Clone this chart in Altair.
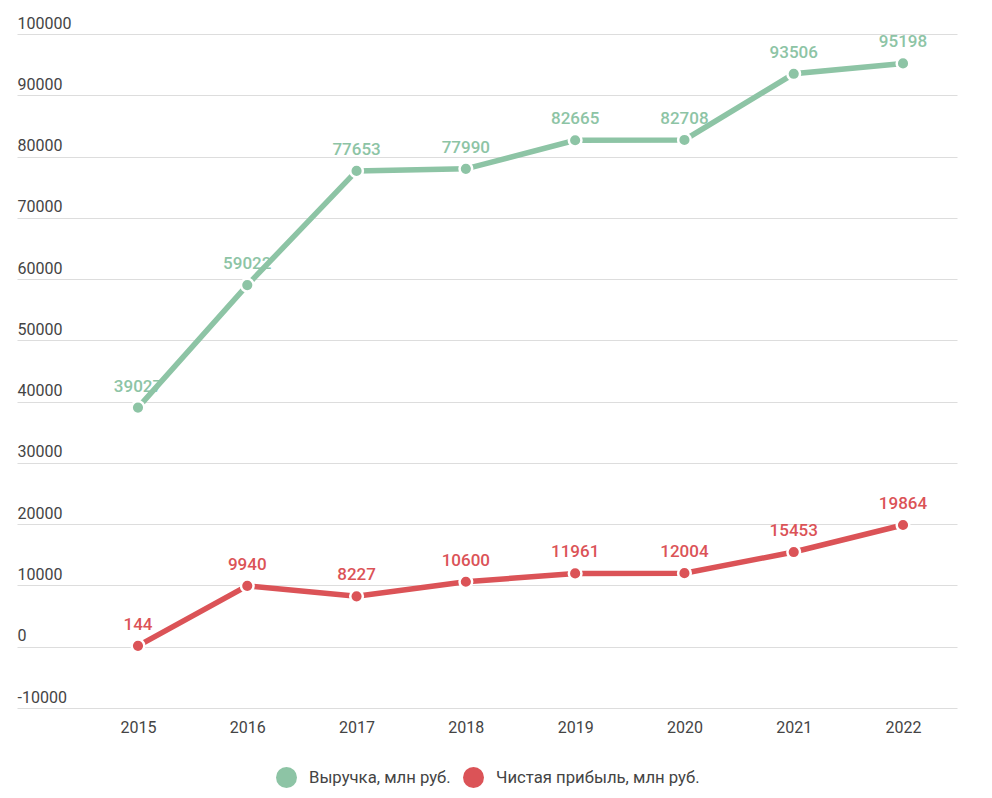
import altair as alt
import pandas as pd

years = [2015, 2016, 2017, 2018, 2019, 2020, 2021, 2022]
revenue = [39027, 59022, 77653, 77990, 82665, 82708, 93506, 95198]
profit = [144, 9940, 8227, 10600, 11961, 12004, 15453, 19864]
series_names = ["Выручка, млн руб.", "Чистая прибыль, млн руб."]
series_colors = ["#8dc4a5", "#db5357"]
y_ticks = [-10000, 0, 10000, 20000, 30000, 40000, 50000, 60000, 70000, 80000, 90000, 100000]

rows = []
for y, r, p in zip(years, revenue, profit):
    rows.append({"year": y, "value": r, "series": series_names[0]})
    rows.append({"year": y, "value": p, "series": series_names[1]})
df = pd.DataFrame(rows)

FONT = "Roboto"

x = alt.X("year:Q",
          scale=alt.Scale(domain=[2013.893, 2022.494], nice=False, zero=False),
          axis=alt.Axis(values=years, format="d", title=None, grid=False, domain=False,
                        ticks=False, labelPadding=11, labelFontSize=16,
                        labelColor="#444444", labelFont=FONT))
y = alt.Y("value:Q",
          scale=alt.Scale(domain=[-10000, 100000], nice=False, zero=False),
          axis=alt.Axis(values=y_ticks, labelExpr="'' + datum.value", title=None,
                        domain=False, ticks=False,
                        tickSize=0, grid=True, gridColor="#dddddd", gridWidth=1,
                        labelAlign="left", labelBaseline="bottom", labelPadding=0,
                        labelOffset=-3, labelFontSize=16, labelColor="#444444",
                        labelFont=FONT))
color = alt.Color("series:N",
                  scale=alt.Scale(domain=series_names, range=series_colors),
                  legend=alt.Legend(title=None, orient="none", direction="horizontal",
                                    legendX=259, legendY=733, symbolType="circle",
                                    symbolSize=440, symbolStrokeWidth=0, symbolOpacity=1,
                                    labelFontSize=16.7, labelColor="#444444", labelFont=FONT,
                                    labelLimit=0, labelOffset=12, columnPadding=12))

base = alt.Chart(df)

text = base.mark_text(dy=-21, fontSize=17, font=FONT, fontWeight=500).encode(
    x=x, y=y, text=alt.Text("value:Q", format="d"), color=color)
line = base.mark_line(strokeWidth=5.5).encode(x=x, y=y, color=color)
points = base.mark_point(filled=True, size=160, opacity=1, strokeWidth=2.5).encode(
    x=x, y=y, color=color, stroke=alt.value("white"))

chart = alt.layer(text, line, points).properties(
    width=940, height=674,
    padding={"left": 9, "top": 7, "right": 20, "bottom": 5},
).configure(font=FONT).configure_view(stroke=None)

chart.save("out.html", embed_options={"renderer": "svg", "actions": False})
